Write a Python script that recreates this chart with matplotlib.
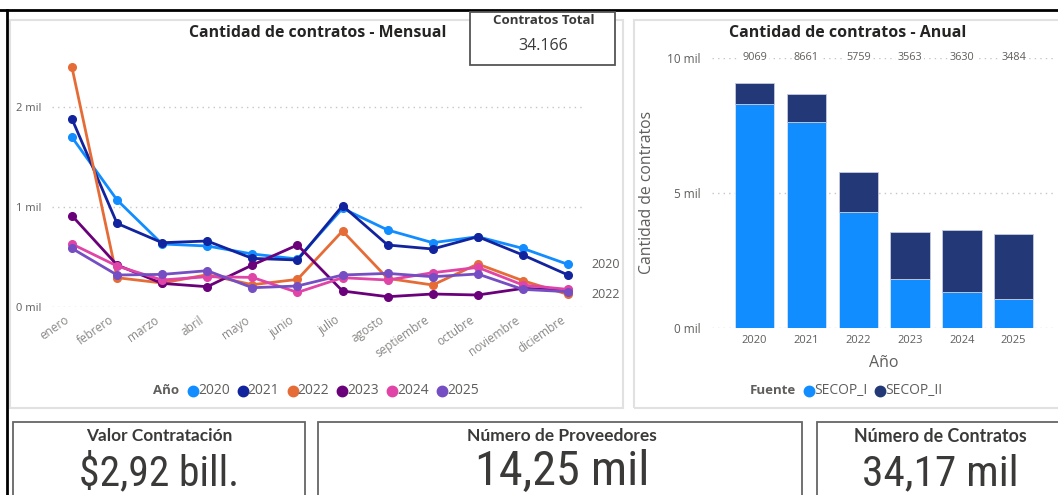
import os
import time
import matplotlib
matplotlib.use("Agg")
import matplotlib.pyplot as plt
import matplotlib.font_manager as fm
from matplotlib.textpath import TextPath
from matplotlib.patches import Rectangle
from matplotlib.lines import Line2D
from matplotlib.transforms import ScaledTranslation

plt.rcParams['font.family'] = ['Open Sans', 'DejaVu Sans']

# ---------------- data ----------------
months = ["enero", "febrero", "marzo", "abril", "mayo", "junio", "julio",
          "agosto", "septiembre", "octubre", "noviembre", "diciembre"]
years = ["2020", "2021", "2022", "2023", "2024", "2025"]
line_colors = ["#118DFF", "#12239E", "#E66C37", "#6B007B", "#E044A7", "#744EC2"]

m2020 = [1694, 1067, 627, 607, 527, 477, 983, 767, 640, 700, 583, 423]
m2021 = [1877, 833, 640, 657, 483, 467, 1010, 617, 577, 700, 517, 317]
m2022 = [2393, 290, 237, 320, 220, 273, 757, 283, 217, 427, 260, 123]
m2023 = [910, 417, 233, 200, 417, 617, 157, 100, 127, 117, 183, 167]
m2024 = [627, 407, 267, 300, 293, 143, 290, 267, 340, 393, 217, 173]
m2025 = [583, 317, 323, 360, 190, 207, 317, 333, 300, 327, 173, 150]
monthly = [m2020, m2021, m2022, m2023, m2024, m2025]

secop_i = [8300, 7627, 4293, 1812, 1317, 1057]
totals = [9069, 8661, 5759, 3563, 3630, 3484]
secop_ii = [t - s for t, s in zip(totals, secop_i)]

card_total_title = "Contratos Total"
card_total_value = "34.166"
kpi_titles = ["Valor Contratación", "Número de Proveedores", "Número de Contratos"]
kpi_values = ["$2,92 bill.", "14,25 mil", "34,17 mil"]


# ---------------- font helpers ----------------
def _weight(f):
    w = f.weight
    if isinstance(w, str):
        w = fm.weight_dict.get(w, 400)
    return int(w)


ALLOWED = {"open sans", "lato", "roboto", "inter", "noto sans", "dejavu sans",
           "liberation sans", "liberation sans narrow"}


def candidate_files(wmin, wmax):
    out, seen = [], set()
    for f in fm.fontManager.ttflist:
        base = os.path.basename(f.fname).lower()
        nm = f.name.lower()
        if f.fname in seen or not base.endswith((".ttf", ".otf")):
            continue
        ok = nm in ALLOWED or (("condensed" in nm or "narrow" in nm)
                               and any(nm.startswith(a) for a in ALLOWED))
        if not ok:
            continue
        if f.style != "normal" or "italic" in base or "oblique" in base:
            continue
        w = _weight(f)
        if w < wmin or w > wmax:
            continue
        seen.add(f.fname)
        out.append(f.fname)
    return out[:40]


def pick_by_ratio(sample, ref_char, target_ratio, wmin, wmax, fallback):
    best = None
    t0 = time.time()
    for fname in candidate_files(wmin, wmax):
        if time.time() - t0 > 15:
            break
        try:
            fp = fm.FontProperties(fname=fname)
            ew = TextPath((0, 0), sample, size=100, prop=fp).get_extents().width
            eh = TextPath((0, 0), ref_char, size=100, prop=fp).get_extents().height
            if eh <= 0 or ew <= 0:
                continue
            score = abs(ew / eh - target_ratio)
        except Exception:
            continue
        if best is None or score < best[0]:
            best = (score, fname)
    if best is not None:
        return fm.FontProperties(fname=best[1])
    return fm.FontProperties(family="DejaVu Sans", weight=fallback)


value_font = pick_by_ratio("14,25 mil", "1", 5.0, 200, 450, "normal")
title_font = pick_by_ratio("Número de Proveedores", "N", 15.0, 550, 750, "bold")

# ---------------- figure ----------------
W, H = 1058, 495
fig = plt.figure(figsize=(W / 100, H / 100), dpi=100)
fig.patch.set_facecolor("white")
renderer = fig.canvas.get_renderer()


def fx(x):
    return x / W


def fy(y):
    return 1 - y / H


def rect(x0, y0, x1, y1, ec, lw, fc="none", z=1):
    r = Rectangle((fx(x0), fy(y1)), (x1 - x0) / W, (y1 - y0) / H,
                  transform=fig.transFigure, fc=fc, ec=ec, lw=lw, zorder=z)
    fig.add_artist(r)


def fit(t, width):
    bb = t.get_window_extent(renderer)
    t.set_fontsize(t.get_fontsize() * width / bb.width)
    return t


TXT = "#252423"
GRAY = "#605E5C"
GRID = "#C8C6C4"

# outer black frame lines
fig.add_artist(Line2D([0, 1], [fy(10), fy(10)], transform=fig.transFigure, color="black", lw=2))
fig.add_artist(Line2D([fx(7), fx(7)], [fy(10), 0], transform=fig.transFigure, color="black", lw=2))

# panels
rect(10, 20, 623, 408, "#E1E1E1", 1.5)
rect(634, 20, 1062, 408, "#E1E1E1", 1.5)

# ---------------- line chart ----------------
ax1 = fig.add_axes([fx(52), fy(306.7), (585 - 52) / W, (306.7 - 50) / H])
ax1.set_xlim(-0.443, 11.377)
ax1.set_ylim(0, 2567)
x = list(range(len(months)))
for vals, c in zip(monthly, line_colors):
    ax1.plot(x, vals, color=c, lw=2.0, marker="o", ms=5.5, clip_on=False, zorder=3)
ax1.set_yticks([0, 1000, 2000])
ax1.set_yticklabels(["0 mil", "1 mil", "2 mil"], fontsize=8, color=GRAY)
ax1.set_xticks(x)
ax1.set_xticklabels(months, rotation=35, ha="right", rotation_mode="anchor",
                    fontsize=8.5, color="#8A8886")
ax1.tick_params(length=0, pad=8)
ax1.tick_params(axis="x", pad=5)
shift = ScaledTranslation(-8 / 100, 0, fig.dpi_scale_trans)
for lab in ax1.get_xticklabels():
    lab.set_transform(lab.get_transform() + shift)
for s in ax1.spines.values():
    s.set_visible(False)
ax1.grid(axis="y", color=GRID, lw=1, linestyle=(0, (1, 3)))
ax1.set_axisbelow(True)
ax1.patch.set_alpha(0)
for yr, vals in zip(years, monthly):
    if yr in ("2020", "2022"):
        ax1.annotate(yr, xy=(11, vals[-1]), xytext=(17, 0), textcoords="offset points",
                     fontsize=9, color=GRAY, va="center", ha="left", annotation_clip=False)

t = fig.text(fx(318), fy(33), "Cantidad de contratos - Mensual", ha="center", va="center",
             fontsize=10, fontweight="bold", color=TXT)
fit(t, 257)

# legend line chart
fig.text(fx(153), fy(391), "Año", ha="left", va="center", fontsize=9.5,
         fontweight="bold", color=GRAY)
for i, (yr, c) in enumerate(zip(years, line_colors)):
    cx = 193 + 49.8 * i
    fig.add_artist(Line2D([fx(cx)], [fy(391)], transform=fig.transFigure, marker="o",
                          ms=7.5, color=c, lw=0))
    fig.text(fx(cx + 5), fy(391), yr, ha="left", va="center", fontsize=10, color=GRAY)

# ---------------- Contratos total card ----------------
rect(470, 12, 615, 65, "#555555", 1.3, fc="white", z=5)
t = fig.text(fx(544), fy(21), card_total_title, ha="center", va="center", fontsize=8,
             fontweight="bold", color="#3B3A39", zorder=6)
fit(t, 102)
t = fig.text(fx(543), fy(46), card_total_value, ha="center", va="center", fontsize=11,
             color="#3B3A39", zorder=6)
fit(t, 50)

# ---------------- bar chart ----------------
ax2 = fig.add_axes([fx(712), fy(327.7), (1056 - 712) / W, (327.7 - 58) / H])
xb = list(range(len(years)))
ax2.bar(xb, secop_i, width=0.76, color="#118DFF", edgecolor="#D6E4FF", lw=0.6, zorder=3)
ax2.bar(xb, secop_ii, bottom=secop_i, width=0.76, color="#233876",
        edgecolor="#C5CCE0", lw=0.6, zorder=3)
ax2.set_xlim(-0.824, 5.817)
ax2.set_ylim(0, 10000)
ax2.set_yticks([0, 5000, 10000])
ax2.set_yticklabels(["0 mil", "5 mil", "10 mil"], fontsize=8.5, color=GRAY)
ax2.set_xticks(xb)
ax2.set_xticklabels(years, fontsize=8, color=GRAY)
ax2.tick_params(length=0, pad=8)
ax2.tick_params(axis="x", pad=5)
for s in ax2.spines.values():
    s.set_visible(False)
ax2.grid(axis="y", color=GRID, lw=1, linestyle=(0, (1, 3)))
ax2.set_axisbelow(True)
ax2.patch.set_alpha(0)
for i, tot in enumerate(totals):
    ax2.text(i, 10000, str(tot), ha="center", va="center", fontsize=7.8, color=GRAY,
             bbox=dict(fc="white", ec="none", pad=1.5), zorder=4, clip_on=False)
ax2.set_xlabel("Año", fontsize=11.5, color=GRAY, labelpad=7)
ax2.set_ylabel("Cantidad de contratos", fontsize=11.3, color=GRAY, labelpad=9)

t = fig.text(fx(848), fy(33), "Cantidad de contratos - Anual", ha="center", va="center",
             fontsize=10, fontweight="bold", color=TXT)
fit(t, 237)

fig.text(fx(750), fy(391), "Fuente", ha="left", va="center", fontsize=9.5,
         fontweight="bold", color=GRAY)
for cx, lab, c in [(809, "SECOP_I", "#118DFF"), (880, "SECOP_II", "#233876")]:
    fig.add_artist(Line2D([fx(cx)], [fy(391)], transform=fig.transFigure, marker="o",
                          ms=7.5, color=c, lw=0))
    fig.text(fx(cx + 5), fy(391), lab, ha="left", va="center", fontsize=10, color=GRAY)

# ---------------- KPI cards ----------------
cards = [(13, 305), (318, 802), (817, 1070)]
centers = [159, 562, 940]
title_w = [146, 191, 172]
value_w = [160, 174, 156]
for (x0, x1), cx, tw, vw, tt, vv in zip(cards, centers, title_w, value_w, kpi_titles, kpi_values):
    rect(x0, 422, x1, 500, "#666666", 1.3)
    t = fig.text(fx(cx), fy(436), tt, ha="center", va="center", fontsize=10,
                 color="#3B3A39", fontproperties=title_font)
    t.set_fontsize(10)
    fit(t, tw)
    v = fig.text(fx(cx), fy(485), vv, ha="center", va="baseline", fontsize=30,
                 color="#3B3A39", fontproperties=value_font)
    v.set_fontsize(30)
    fit(v, vw)

fig.savefig("out.png", dpi=100, facecolor="white")
